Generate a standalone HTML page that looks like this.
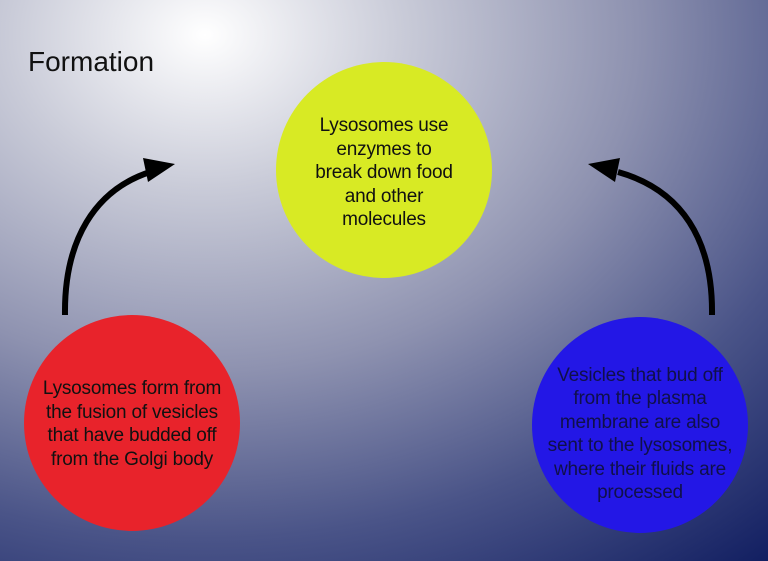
<!DOCTYPE html>
<html><head><style>
html,body{margin:0;padding:0}
body{width:768px;height:561px;overflow:hidden;position:relative;font-family:"Liberation Sans",sans-serif;
background:radial-gradient(ellipse 900px 700px at 205px 35px,#ffffff 0%,#c9cbd8 22%,#8e92b0 48%,#4a5488 72%,#0d1a5e 100%);}
.c{position:absolute;width:216px;height:216px;border-radius:50%;display:flex;align-items:center;justify-content:center;text-align:center;font-size:19px;line-height:23.5px;color:#111;letter-spacing:-0.2px}
.t{position:absolute;left:28px;top:46px;font-size:28px;color:#111}
</style></head><body>
<div class="t">Formation</div>
<div class="c" style="left:276px;top:62px;background:#d8ea24"><div style="width:190px;margin-top:6px">Lysosomes use<br>enzymes to<br>break down food<br>and other<br>molecules</div></div>
<div class="c" style="left:24px;top:315px;background:#e8232b"><div style="width:216px;margin-top:2px">Lysosomes form from<br>the fusion of vesicles<br>that have budded off<br>from the Golgi body</div></div>
<div class="c" style="left:532px;top:317px;background:#2317e6;color:#10104a"><div style="width:216px;margin-top:18px">Vesicles that bud off<br>from the plasma<br>membrane are also<br>sent to the lysosomes,<br>where their fluids are<br>processed</div></div>
<svg width="768" height="561" style="position:absolute;left:0;top:0">
<path d="M65 315 C64 240 95 190 150 172" fill="none" stroke="#000" stroke-width="6"/>
<polygon points="175,164 143,158 148,182" fill="#000"/>
<path d="M712 315 C713 240 682 190 618 172" fill="none" stroke="#000" stroke-width="6"/>
<polygon points="588,164 620,158 615,182" fill="#000"/>
</svg>
</body></html>
